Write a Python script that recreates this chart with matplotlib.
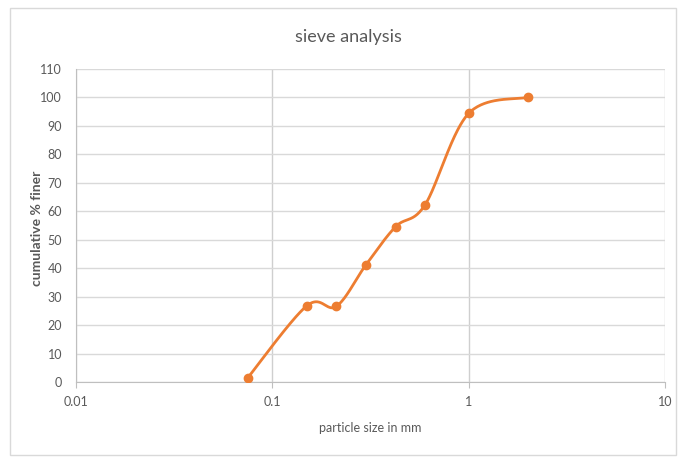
import numpy as np
import matplotlib
matplotlib.use("Agg")
import matplotlib.pyplot as plt
from matplotlib.patches import Rectangle

# sieve sizes (mm) and cumulative percent passing
sizes = [0.075, 0.15, 0.212, 0.30, 0.425, 0.60, 1.0, 2.0]
pct_finer = [1.5, 26.8, 26.6, 41.2, 54.6, 62.3, 94.4, 100.0]

x_ticks = [0.01, 0.1, 1, 10]
x_tick_labels = ["0.01", "0.1", "1", "10"]
y_ticks = list(range(0, 111, 10))

plt.rcParams['font.family'] = ['Lato', 'DejaVu Sans']

TEXT = "#595959"
GRID = "#d9d9d9"
ORANGE = "#ED7D31"


def smooth_curve(xs, ys, n=60):
    """Catmull-Rom style smoothing in (log10 x, y) space."""
    lx = np.log10(np.asarray(xs, float))
    py = np.asarray(ys, float)
    P = np.column_stack([lx, py])
    P = np.vstack([P[0], P, P[-1]])
    out = []
    for i in range(1, len(P) - 2):
        p0, p1, p2, p3 = P[i - 1], P[i], P[i + 1], P[i + 2]
        c1 = p1 + (p2 - p0) / 6.0
        c2 = p2 - (p3 - p1) / 6.0
        t = np.linspace(0, 1, n)[:, None]
        seg = ((1 - t) ** 3) * p1 + 3 * ((1 - t) ** 2) * t * c1 \
            + 3 * (1 - t) * t ** 2 * c2 + t ** 3 * p2
        out.append(seg if i == 1 else seg[1:])
    seg = np.vstack(out)
    return 10 ** seg[:, 0], seg[:, 1]


fig = plt.figure(figsize=(6.91, 4.61), dpi=100)
fig.patch.set_facecolor("white")

# chart border
fig.patches.append(Rectangle((10 / 691, 1 - 455 / 461), 666 / 691, 447 / 461,
                             transform=fig.transFigure, fill=False,
                             edgecolor="#d9d9d9", linewidth=1.0))

ax = fig.add_axes([76 / 691, 1 - 382 / 461, 589 / 691, 313 / 461])
ax.set_xscale("log")
ax.set_xlim(0.01, 10)
ax.set_ylim(0, 110)

ax.set_xticks(x_ticks)
ax.set_xticklabels(x_tick_labels)
ax.xaxis.set_minor_locator(matplotlib.ticker.NullLocator())
ax.set_yticks(y_ticks)

ax.grid(True, which="major", axis="y", color=GRID, linewidth=1.0)
ax.grid(True, which="major", axis="x", color="#cfcfcf", linewidth=1.0)
ax.set_axisbelow(True)

for side in ["top", "right"]:
    ax.spines[side].set_visible(False)
ax.spines["left"].set_color("#bfbfbf")
ax.spines["bottom"].set_color("#bfbfbf")

ax.tick_params(axis="x", colors=TEXT, labelsize=9, length=4, color="#bfbfbf",
               direction="out", pad=6)
ax.tick_params(axis="y", colors=TEXT, labelsize=9, length=0, pad=10)

sx, sy = smooth_curve(sizes, pct_finer)
ax.plot(sx, sy, color=ORANGE, linewidth=2.0, solid_capstyle="round", zorder=3)
ax.plot(sizes, pct_finer, linestyle="none", marker="o", markersize=6,
        color=ORANGE, zorder=4)

fig.text(348 / 691, 1 - 37 / 461, "sieve analysis", ha="center", va="center",
         fontsize=13, color=TEXT)
ax.set_xlabel("particle size in mm", fontsize=9, color=TEXT, labelpad=10)
fig.text(37 / 691, 1 - 228 / 461, "cumulative % finer", ha="center",
         va="center", rotation=90, fontsize=10, color=TEXT, fontweight="bold")

fig.savefig("out.png", dpi=100, facecolor="white")
